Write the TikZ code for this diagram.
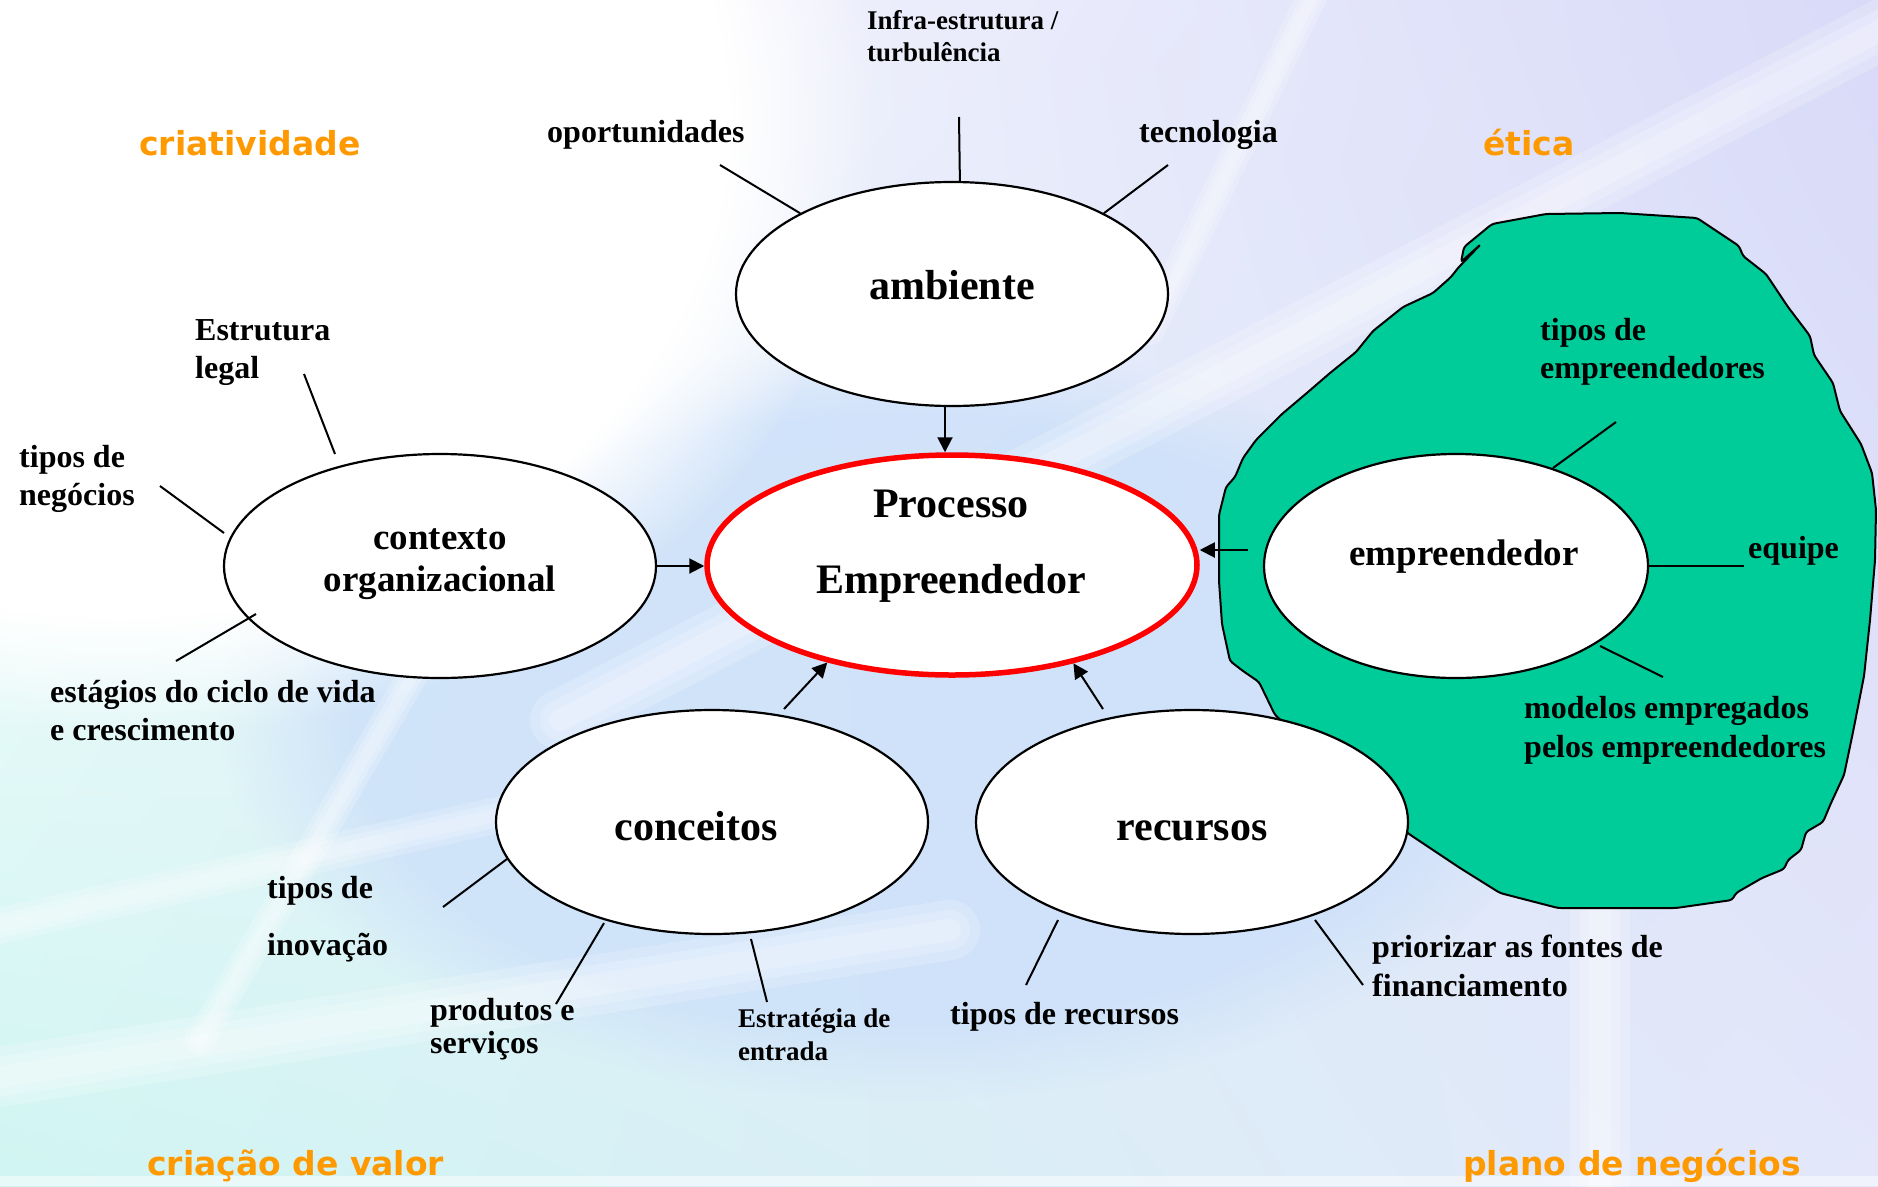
\documentclass[tikz,border=0pt]{standalone}
\usepackage{fontspec}
\setmainfont{Liberation Serif}
\newfontfamily\orfont{DejaVu Sans}
\usetikzlibrary{arrows.meta,shapes.geometric,fadings,shadings}
\definecolor{orng}{RGB}{255,153,0}
\definecolor{grn}{RGB}{0,204,153}
\definecolor{lavR}{RGB}{216,218,248}
\definecolor{cyanL}{RGB}{208,245,242}
\definecolor{lavL}{RGB}{228,231,250}
\definecolor{blueC}{RGB}{204,224,250}
\tikzset{
 bub/.style={ellipse, draw=black, line width=2.2pt, fill=white, inner sep=0pt, minimum width=432pt, minimum height=224pt},
 lab/.style={inner sep=0pt, anchor=base west, font=\fontsize{32}{37}\selectfont\bfseries},
 labs/.style={inner sep=0pt, anchor=base west, font=\fontsize{27}{32}\selectfont\bfseries},
 big/.style={inner sep=0pt, anchor=base, font=\fontsize{42}{48}\selectfont\bfseries},
 mid/.style={inner sep=0pt, anchor=base, font=\fontsize{37}{44}\selectfont\bfseries},
 corner/.style={inner sep=0pt, anchor=base west, text=orng, font=\orfont\fontsize{33}{40}\selectfont\bfseries},
 spoke/.style={line width=2pt},
 arr/.style={line width=2pt, -{Triangle[length=15pt,width=15pt]}},
 streak/.style={white, line cap=round, opacity=0.2},
}
\begin{document}
\begin{tikzpicture}[x=1pt,y=-1pt]
\useasboundingbox (0,0) rectangle (1878,1186);
% background
\shade[upper left=white, upper right=lavR, lower left=cyanL, lower right=lavL] (0,0) rectangle (1878,1186);
\fill[blueC, fill opacity=0.8, path fading=circle with fuzzy edge 20 percent] (900,720) ellipse (680 and 380);
\fill[white, path fading=circle with fuzzy edge 20 percent] (120,120) ellipse (760 and 620);
\foreach \w in {60,40,22} {
  \draw[streak, line width=\w pt] (560,720) -- (1900,20);
  \draw[streak, line width=\w pt] (-20,1080) -- (950,930);
  \draw[streak, line width=0.6*\w pt] (-20,930) -- (700,770);
  \draw[streak, line width=0.5*\w pt] (200,1040) -- (480,560);
  \draw[streak, line width=0.5*\w pt] (1150,330) -- (1320,-20);
  \draw[streak, line width=\w pt] (1600,1186) -- (1600,900);
}
\fill[white, opacity=0.5] (0,1176) rectangle (1878,1186);
% green blob
\draw[fill=grn, line width=2pt, rounded corners=3pt] (1492,224) -- (1546,214) -- (1620,213) -- (1697,218) -- (1739,246) -- (1743,256) -- (1766,274) -- (1788,307) -- (1810,336) -- (1814,355) -- (1833,383) -- (1840,411) -- (1861,444) -- (1872,473) -- (1876,510) -- (1875,560) -- (1870,620) -- (1864,676) -- (1853,732) -- (1844,775) -- (1831,803) -- (1823,822) -- (1806,832) -- (1801,850) -- (1788,860) -- (1784,869) -- (1762,878) -- (1736,893) -- (1732,900) -- (1676,908) -- (1558,908) -- (1500,893) -- (1460,868) -- (1409,834) -- (1275,715) -- (1259,682) -- (1243,671) -- (1230,661) -- (1222,624) -- (1219,581) -- (1219,515) -- (1226,487) -- (1235,477) -- (1243,458) -- (1256,440) -- (1282,414) -- (1308,392) -- (1330,373) -- (1356,352) -- (1373,331) -- (1403,307) -- (1433,293) -- (1451,277) -- (1458,268) -- (1481,244) -- (1461,262) -- (1464,247) -- cycle;
% spoke coordinates
\coordinate (sa1) at (959,117);
\coordinate (sa2) at (720,165);
\coordinate (sa3) at (1168,165);
\coordinate (sc1a) at (304,374); \coordinate (sc1b) at (335,454);
\coordinate (sc2a) at (160,486); \coordinate (sc2b) at (224,533);
\coordinate (sc3a) at (176,661); \coordinate (sc3b) at (256,614);
\coordinate (sk1a) at (443,907); \coordinate (sk1b) at (507,859);
\coordinate (sk2a) at (556,1004); \coordinate (sk2b) at (604,923);
\coordinate (sk3a) at (767,1002); \coordinate (sk3b) at (751,939);
\coordinate (sr1a) at (1026,985); \coordinate (sr1b) at (1058,920);
\coordinate (sr2a) at (1363,985); \coordinate (sr2b) at (1315,920);
\coordinate (se1a) at (1616,422); \coordinate (se1b) at (1553,468);
\coordinate (se2a) at (1744,566);
\coordinate (se3a) at (1663,677); \coordinate (se3b) at (1600,646);
% ellipses
\node[bub] (amb) at (952,294) {};
\node[bub, draw=red, line width=5.5pt, minimum width=490pt, minimum height=220pt] (proc) at (952,565) {};
\node[bub] (ctx) at (440,566) {};
\node[bub, minimum width=384pt] (emp) at (1456,566) {};
\node[bub] (conc) at (712,822) {};
\node[bub] (rec) at (1192,822) {};
% spokes
\draw[spoke] (sa1) -- (amb.86);
\draw[spoke] (sa2) -- (amb.152);
\draw[spoke] (sa3) -- (amb.28);
\draw[spoke] (sc1a) -- (sc1b);
\draw[spoke] (sc2a) -- (sc2b);
\draw[spoke] (sc3a) -- (sc3b);
\draw[spoke] (sk1a) -- (sk1b);
\draw[spoke] (sk2a) -- (sk2b);
\draw[spoke] (sk3a) -- (sk3b);
\draw[spoke] (sr1a) -- (sr1b);
\draw[spoke] (sr2a) -- (sr2b);
\draw[spoke] (se1a) -- (se1b);
\draw[spoke] (emp.east) -- (se2a);
\draw[spoke] (se3a) -- (se3b);
% arrows
\coordinate (ef) at (1248,550);
\coordinate (cf) at (784,709);
\coordinate (rf) at (1103,709);
\draw[arr] ([xshift=-7pt]amb.south) -- ([xshift=-7pt]proc.north);
\draw[arr] (ctx.east) -- (ctx.east -| proc.west);
\draw[arr] (ef) -- (proc.east |- ef);
\draw[arr] (cf) -- (proc.218.8);
\draw[arr] (rf) -- (proc.321.2);
% ellipse texts
\node[big] (tamb) at (952,299) {ambiente};
\node[big] (tp1) at (951,517) {Processo};
\node[big] (tp2) at (951,593) {Empreendedor};
\node[mid] (tc1) at (440,549) {contexto};
\node[mid] (tc2) at (440,591) {organizacional};
\node[mid] (temp) at (1464,565) {empreendedor};
\node[big] (tconc) at (696,840) {conceitos};
\node[big] (trec) at (1192,840) {recursos};
% labels
\node[labs] (infra1) at (867,29) {Infra-estrutura /};
\node[labs] (infra2) at (867,61) {turbulência};
\node[lab] (oport) at (547,142) {oportunidades};
\node[lab] (tecno) at (1139,142) {tecnologia};
\node[lab] (estr1) at (195,340) {Estrutura};
\node[lab] (estr2) at (195,378) {legal};
\node[lab] (tn1) at (19,467) {tipos de};
\node[lab] (tn2) at (19,505) {negócios};
\node[lab] (est1) at (50,702) {estágios do ciclo de vida};
\node[lab] (est2) at (50,740) {e crescimento};
\node[lab] (ti1) at (267,898) {tipos de};
\node[lab] (ti2) at (267,955) {inovação};
\node[lab] (ps1) at (430,1020) {produtos e};
\node[lab] (ps2) at (430,1053) {serviços};
\node[labs] (sg1) at (738,1027) {Estratégia de};
\node[labs] (sg2) at (738,1060) {entrada};
\node[lab] (tr) at (950,1024) {tipos de recursos};
\node[lab] (pf1) at (1372,957) {priorizar as fontes de};
\node[lab] (pf2) at (1372,996) {financiamento};
\node[lab] (te1) at (1540,340) {tipos de};
\node[lab] (te2) at (1540,378) {empreendedores};
\node[lab] (eq) at (1748,558) {equipe};
\node[lab] (me1) at (1524,718) {modelos empregados};
\node[lab] (me2) at (1524,757) {pelos empreendedores};
% corner words
\node[corner] (cw1) at (139,155) {criatividade};
\node[corner] (cw2) at (1483,155) {ética};
\node[corner] (cw3) at (147,1175) {criação de valor};
\node[corner] (cw4) at (1463,1175) {plano de negócios};
\end{tikzpicture}
\end{document}
